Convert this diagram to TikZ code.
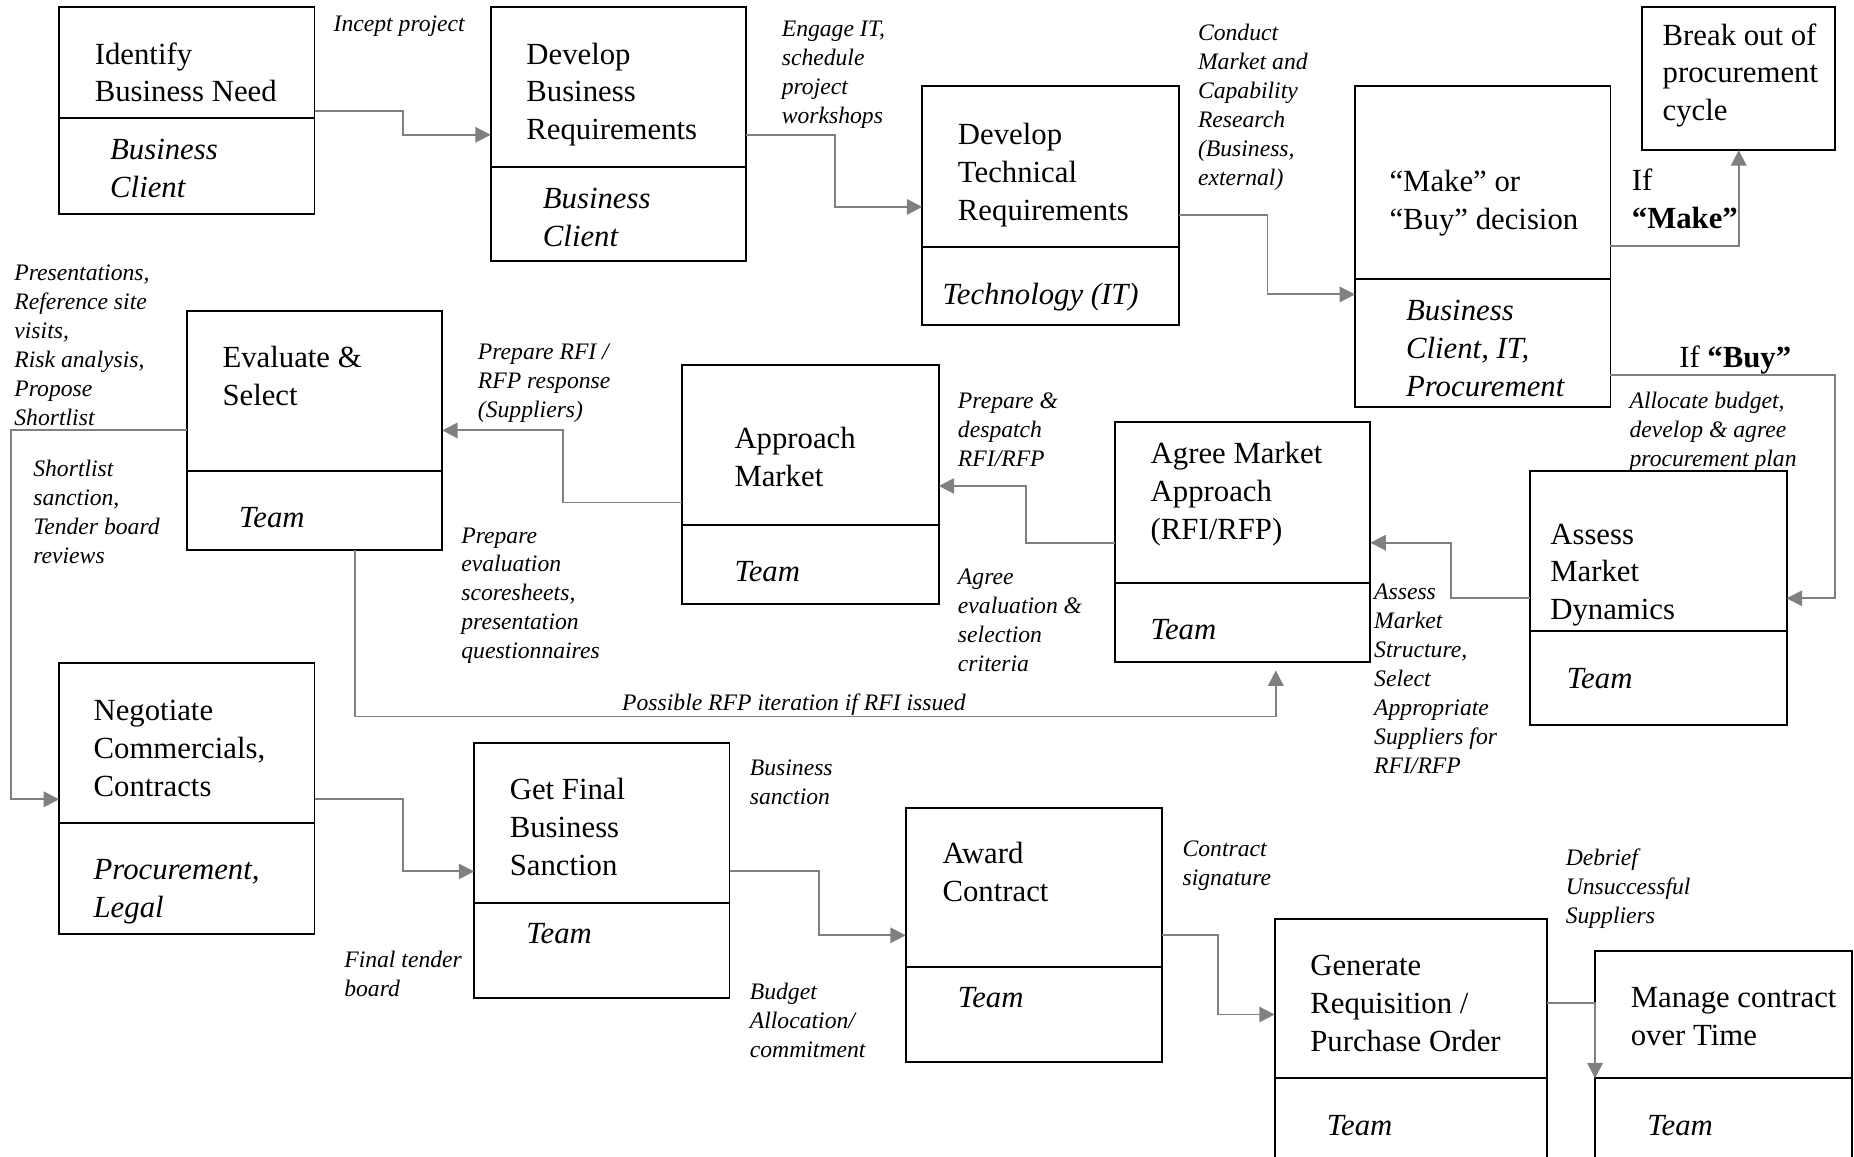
\documentclass[tikz,border=0pt]{standalone}
\usepackage{fontspec}
\setmainfont{Liberation Serif}
\usetikzlibrary{arrows.meta}
\definecolor{conncol}{RGB}{128,128,128}
\tikzset{
  box/.style={draw=black, line width=1.6pt, anchor=north west, inner sep=0pt, outer sep=0pt},
  boxline/.style={draw=black, line width=1.6pt},
  main/.style={font=\fontsize{26}{32}\selectfont, align=left, anchor=north west, inner sep=0pt},
  role/.style={font=\fontsize{26}{32}\selectfont\itshape, align=left, anchor=north west, inner sep=0pt},
  lbl/.style={font=\fontsize{20}{24.5}\selectfont\itshape, align=left, anchor=north west, inner sep=0pt},
  conn/.style={draw=conncol, line width=1.6pt, -{Triangle[length=13pt,width=13pt]}},
  plain/.style={draw=conncol, line width=1.6pt}
}
\newcommand{\procbox}[6]{%
  \node[box, minimum width=#4pt, minimum height=#5pt] (#1) at (#2,#3) {};
  \draw[boxline] ([yshift=-#6pt]#1.north west) -- ([yshift=-#6pt]#1.north east);}
\begin{document}
\begin{tikzpicture}[x=1pt,y=-1pt]
\useasboundingbox (0,0) rectangle (1568,978);
\fill[white] (0,0) rectangle (1568,978);
\clip (0,0) rectangle (1568,978);

% boxes
\procbox{b1}{50}{6}{216}{175}{94}
\procbox{b2}{415}{6}{216}{215}{135}
\procbox{b3}{780}{73}{217}{202}{136}
\procbox{b4}{1146}{73}{216}{271}{163}
\node[box, minimum width=163pt, minimum height=121pt] (b5) at (1389,6) {};
\procbox{b6}{158}{263}{216}{202}{135}
\procbox{b7}{577}{309}{217}{202}{135}
\procbox{b8}{943}{357}{216}{203}{136}
\procbox{b9}{1294}{398}{217}{215}{136}
\procbox{b10}{50}{561}{216}{229}{135}
\procbox{b11}{401}{628}{216}{216}{136}
\procbox{b12}{766}{683}{217}{215}{135}
\procbox{b13}{1078}{777}{230}{215}{135}
\procbox{b14}{1349}{804}{217}{188}{108}

% box texts
\node[main] (b1t) at (80,31.6) {\strut Identify\\\strut Business Need};
\node[role] (b1r) at (93,112.6) {\strut Business\\\strut Client};
\node[main] (b2t) at (445,31.6) {\strut Develop\\\strut Business\\\strut Requirements};
\node[role] (b2r) at (459,153.6) {\strut Business\\\strut Client};
\node[main] (b3t) at (810,99.6) {\strut Develop\\\strut Technical\\\strut Requirements};
\node[role] (b3r) at (797,234.6) {\strut Technology (IT)};
\node[main] (b4t) at (1175,139.6) {\strut “Make” or\\\strut “Buy” decision};
\node[role] (b4r) at (1189,248.6) {\strut Business\\\strut Client, IT,\\\strut Procurement};
\node[main] (b5t) at (1406,15.5) {\strut Break out of\\\strut procurement\\\strut cycle};
\node[main] (b6t) at (188,288.6) {\strut Evaluate \&\\\strut Select};
\node[role] (b6r) at (202,423.6) {\strut Team};
\node[main] (b7t) at (621,356.6) {\strut Approach\\\strut Market};
\node[role] (b7r) at (621,469.6) {\strut Team};
\node[main] (b8t) at (973,369.6) {\strut Agree Market\\\strut Approach\\\strut (RFI/RFP)};
\node[role] (b8r) at (973,518.6) {\strut Team};
\node[main] (b9t) at (1311,437.6) {\strut Assess\\\strut Market\\\strut Dynamics};
\node[role] (b9r) at (1325,559.6) {\strut Team};
\node[main] (b10t) at (79,586.6) {\strut Negotiate\\\strut Commercials,\\\strut Contracts};
\node[role] (b10r) at (79,721.6) {\strut Procurement,\\\strut Legal};
\node[main] (b11t) at (431,653.6) {\strut Get Final\\\strut Business\\\strut Sanction};
\node[role] (b11r) at (445,775.6) {\strut Team};
\node[main] (b12t) at (797,707.6) {\strut Award\\\strut Contract};
\node[role] (b12r) at (810,829.6) {\strut Team};
\node[main] (b13t) at (1108,802.6) {\strut Generate\\\strut Requisition /\\\strut Purchase Order};
\node[role] (b13r) at (1122,937.6) {\strut Team};
\node[main] (b14t) at (1379,829.6) {\strut Manage contract\\\strut over Time};
\node[role] (b14r) at (1393,937.6) {\strut Team};

% decision labels
\node[main] (ifmake) at (1380,138.6) {\strut If\\\strut \textbf{“Make”}};
\node[main] (ifbuy) at (1420,288.6) {\strut If \textbf{“Buy”}};

% italic labels
\node[lbl] (l1) at (282,8.9) {\strut Incept project};
\node[lbl] (l2) at (661,13.9) {\strut Engage IT,\\\strut schedule\\\strut project\\\strut workshops};
\node[lbl] (l3) at (1013,16.9) {\strut Conduct\\\strut Market and\\\strut Capability\\\strut Research\\\strut (Business,\\\strut external)};
\node[lbl] (l4) at (1378,327.9) {\strut Allocate budget,\\\strut develop \& agree\\\strut procurement plan};
\node[lbl] (l5) at (12,219.9) {\strut Presentations,\\\strut Reference site\\\strut visits,\\\strut Risk analysis,\\\strut Propose\\\strut Shortlist};
\node[lbl] (l6) at (28,385.9) {\strut Shortlist\\\strut sanction,\\\strut Tender board\\\strut reviews};
\node[lbl] (l7) at (404,286.9) {\strut Prepare RFI /\\\strut RFP response\\\strut (Suppliers)};
\node[lbl] (l8) at (810,327.9) {\strut Prepare \&\\\strut despatch\\\strut RFI/RFP};
\node[lbl] (l9) at (390,441.9) {\strut Prepare\\\strut evaluation\\\strut scoresheets,\\\strut presentation\\\strut questionnaires};
\node[lbl] (l10) at (810,476.9) {\strut Agree\\\strut evaluation \&\\\strut selection\\\strut criteria};
\node[lbl] (l11) at (1162,489.9) {\strut Assess\\\strut Market\\\strut Structure,\\\strut Select\\\strut Appropriate\\\strut Suppliers for\\\strut RFI/RFP};
\node[lbl] (l12) at (526,583.9) {\strut Possible RFP iteration if RFI issued};
\node[lbl] (l13) at (634,638.9) {\strut Business\\\strut sanction};
\node[lbl] (l14) at (291,800.9) {\strut Final tender\\\strut board};
\node[lbl] (l15) at (634,827.9) {\strut Budget\\\strut Allocation/\\\strut commitment};
\node[lbl] (l16) at (1000,706.9) {\strut Contract\\\strut signature};
\node[lbl] (l17) at (1324,714.9) {\strut Debrief\\\strut Unsuccessful\\\strut Suppliers};

% connectors
\draw[conn] ([yshift=-88pt]b1.north east) -- ++(75,0) |- ([yshift=-108pt]b2.north west);
\draw[conn] ([yshift=-108pt]b2.north east) -- ++(75,0) |- ([yshift=-102pt]b3.north west);
\draw[conn] ([yshift=-109pt]b3.north east) -- ++(75,0) |- ([yshift=-176pt]b4.north west);
\draw[conn] ([yshift=-135pt]b4.north east) -| (b5.south);
\draw[conn] ([yshift=-244pt]b4.north east) -- ++(190,0) |- ([yshift=-108pt]b9.north east);
\draw[conn] ([yshift=-108pt]b9.north west) -- ++(-67,0) |- ([yshift=-102pt]b8.north east);
\draw[conn] ([yshift=-102pt]b8.north west) -- ++(-75,0) |- ([yshift=-102pt]b7.north east);
\draw[conn] ([yshift=-116pt]b7.north west) -- ++(-101,0) |- ([yshift=-101pt]b6.north east);
\draw[conn] ([yshift=-101pt]b6.north west) -- ++(-149,0) |- ([yshift=-115pt]b10.north west);
\draw[conn, shorten >=7pt] ([xshift=142pt]b6.south west) -- ++(0,141) -| ([xshift=136pt]b8.south west);
\draw[conn] ([yshift=-115pt]b10.north east) -- ++(75,0) |- ([yshift=-109pt]b11.north west);
\draw[conn] ([yshift=-109pt]b11.north east) -- ++(76,0) |- ([yshift=-108pt]b12.north west);
\draw[conn] ([yshift=-108pt]b12.north east) -- ++(47,0) |- ([yshift=-81pt]b13.north west);
\draw[conn] ([yshift=-71pt]b13.north east) -| ([yshift=-108pt]b14.north west);
\end{tikzpicture}
\end{document}
